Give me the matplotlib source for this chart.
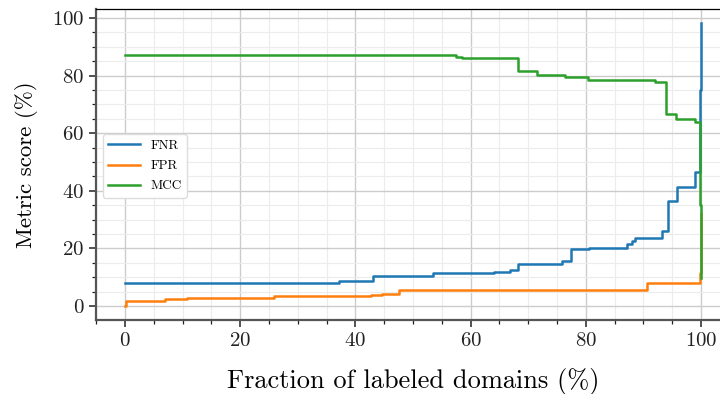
import numpy as np
import matplotlib
matplotlib.use('Agg')
import matplotlib.pyplot as plt
from matplotlib.ticker import MultipleLocator

plt.rcParams['font.family'] = 'serif'
plt.rcParams['font.serif'] = ['cmr10']
plt.rcParams['mathtext.fontset'] = 'cm'
plt.rcParams['axes.formatter.use_mathtext'] = True

# step curves: x = fraction of labeled domains (%), y = metric value (%)
fnr_x = [0, 37.1, 43.1, 53.5, 64.1, 66.9, 68.2, 75.9, 77.4, 80.5, 87.1, 88.0, 88.6, 93.2, 94.3, 95.8, 99.0, 99.9, 100]
fnr_y = [8.0, 8.6, 10.5, 11.3, 11.8, 12.5, 14.5, 15.5, 19.8, 20.2, 21.5, 22.7, 23.5, 26.0, 36.6, 41.3, 46.5, 75.0, 98.3]

fpr_x = [0, 0.1, 1.0, 6.9, 10.8, 25.9, 42.7, 44.6, 47.5, 90.7, 99.9, 100]
fpr_y = [0, 1.6, 1.9, 2.4, 2.9, 3.5, 3.8, 4.3, 5.4, 8.0, 11.4, 32.0]

mcc_x = [0, 10.5, 57.5, 58.5, 68.2, 71.5, 76.4, 80.4, 92.0, 93.9, 95.7, 99.0, 99.9, 100]
mcc_y = [87.2, 87.0, 86.6, 86.0, 81.7, 80.1, 79.4, 78.5, 77.7, 66.7, 65.0, 63.8, 35.0, 9.7]

fig = plt.figure(figsize=(7.2, 3.94), dpi=100)
ax = fig.add_axes([0.1336, 0.1876, 0.880, 0.790])

ax.plot(fnr_x, fnr_y, drawstyle='steps-post', color='#1f77b4', lw=1.8, label='FNR')
ax.plot(fpr_x, fpr_y, drawstyle='steps-post', color='#ff7f0e', lw=1.8, label='FPR')
ax.plot(mcc_x, mcc_y, drawstyle='steps-post', color='#2ca02c', lw=1.8, label='MCC')

ax.set_xlim(-5, 105)
ax.set_ylim(-4.9, 103.2)
ax.xaxis.set_major_locator(MultipleLocator(20))
ax.xaxis.set_minor_locator(MultipleLocator(5))
ax.yaxis.set_major_locator(MultipleLocator(20))
ax.yaxis.set_minor_locator(MultipleLocator(5))
ax.grid(True, which='major', color='#cccccc', lw=1.0)
ax.grid(True, which='minor', color='#ececec', lw=0.8)
ax.set_axisbelow(True)

for s in ['left', 'bottom']:
    ax.spines[s].set_color('#555555')
    ax.spines[s].set_linewidth(1.6)
ax.spines['top'].set_color('black')
ax.spines['top'].set_linewidth(0.9)
ax.spines['right'].set_color('black')
ax.spines['right'].set_linewidth(0.9)

ax.tick_params(which='major', direction='out', length=5, width=1.1, colors='#222222', labelsize=15)
ax.tick_params(which='minor', direction='out', length=3, width=0.9, colors='#222222')

ax.set_xlabel('Fraction of labeled domains (%)', fontsize=19, labelpad=13)
ax.set_ylabel('Metric score (%)', fontsize=16.5, labelpad=10)

ax.legend(loc='center left', bbox_to_anchor=(0.0, 0.495), fontsize=9.5,
          framealpha=1, edgecolor='#dddddd', handlelength=2.4, labelspacing=0.6)

fig.savefig('out.png', dpi=100)
